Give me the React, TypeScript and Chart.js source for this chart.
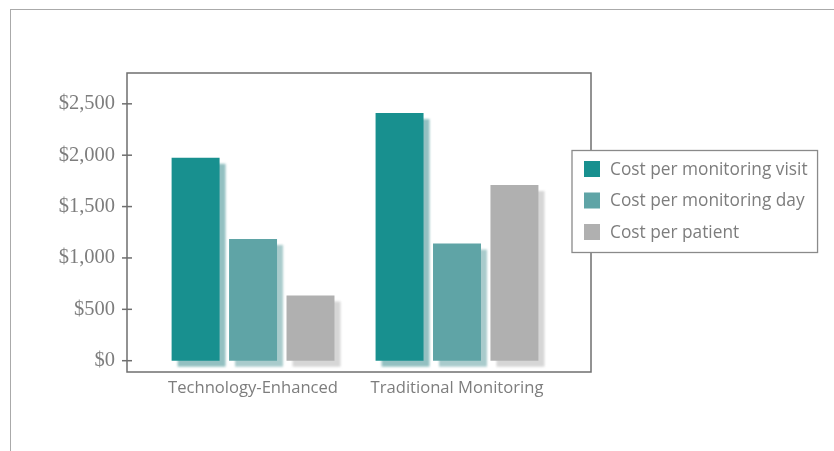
import React, { useEffect, useRef } from "react";
import { Chart, registerables } from "chart.js";

Chart.register(...registerables);

const categories = ["Technology-Enhanced", "Traditional Monitoring"];
const seriesNames = ["Cost per monitoring visit", "Cost per monitoring day", "Cost per patient"];
const visitCost = [1975, 2410];
const dayCost = [1185, 1140];
const patientCost = [635, 1710];
const yTickValues = [0, 500, 1000, 1500, 2000, 2500];

const barColors = ["#18908f", "#5fa4a6", "#b0b0b0"];
const shadowColors = ["#93c0c1", "#a9cbcc", "#d6d6d6"];

const AXIS_COLOR = "#6f6f6f";
const TEXT_COLOR = "#7d7d7d";
const SANS = "'Open Sans', sans-serif";

const shadowPlugin = {
  id: "barShadow",
  beforeDatasetsDraw(chart: any) {
    const ctx = chart.ctx;
    ctx.save();
    ctx.filter = "blur(1px)";
    chart.data.datasets.forEach((ds: any, di: number) => {
      const meta = chart.getDatasetMeta(di);
      ctx.fillStyle = shadowColors[di];
      meta.data.forEach((bar: any) => {
        const { x, y, base, width } = bar.getProps(["x", "y", "base", "width"], true);
        ctx.fillRect(x - width / 2 + 6, y + 6, width, base - y);
      });
    });
    ctx.restore();
  },
};

const framePlugin = {
  id: "frame",
  afterDatasetsDraw(chart: any) {
    const ctx = chart.ctx;
    const { left, right, top, bottom } = chart.chartArea;
    ctx.save();
    ctx.strokeStyle = AXIS_COLOR;
    ctx.lineWidth = 1.5;
    ctx.strokeRect(left, top, right - left, bottom - top);
    const yScale = chart.scales.y;
    yScale.ticks.forEach((t: any) => {
      const py = yScale.getPixelForValue(t.value);
      ctx.beginPath();
      ctx.moveTo(left - 5, py);
      ctx.lineTo(left + 5, py);
      ctx.stroke();
    });
    ctx.restore();
  },
};

const legendPlugin = {
  id: "floatLegend",
  afterDraw(chart: any) {
    const ctx = chart.ctx;
    const { right } = chart.chartArea;
    ctx.save();
    ctx.font = `17.3px ${SANS}`;
    const labels = chart.data.datasets.map((d: any) => d.label);
    const maxW = Math.max(...labels.map((l: string) => ctx.measureText(l).width));
    const boxLeft = right - 19;
    const boxTop = 150.5;
    const rowGap = 31.5;
    const boxW = 38 + maxW + 10;
    const boxH = 102;
    ctx.fillStyle = "#ffffff";
    ctx.fillRect(boxLeft, boxTop, boxW, boxH);
    ctx.strokeStyle = "#8a8a8a";
    ctx.lineWidth = 1.3;
    ctx.strokeRect(boxLeft, boxTop, boxW, boxH);
    ctx.textBaseline = "middle";
    ctx.textAlign = "left";
    chart.data.datasets.forEach((d: any, i: number) => {
      const cy = boxTop + 18.5 + i * rowGap;
      ctx.fillStyle = d.backgroundColor;
      ctx.fillRect(boxLeft + 12, cy - 8, 16, 16);
      ctx.fillStyle = TEXT_COLOR;
      ctx.fillText(d.label, boxLeft + 38, cy + 1);
    });
    ctx.restore();
  },
};

export default function App() {
  const canvasRef = useRef<HTMLCanvasElement | null>(null);

  useEffect(() => {
    if (!canvasRef.current) return;
    const series = [visitCost, dayCost, patientCost];
    const chart = new Chart(canvasRef.current, {
      type: "bar",
      data: {
        datasets: series.map((vals, si) => ({
          label: seriesNames[si],
          data: categories.map((_, ci) => ({ x: ci, y: vals[ci] })),
          backgroundColor: barColors[si],
          borderWidth: 0,
          categoryPercentage: 0.845,
          barPercentage: 0.835,
        })),
      },
      options: {
        animation: false,
        responsive: true,
        maintainAspectRatio: false,
        layout: { padding: { left: 0, top: 73, right: 243, bottom: 0 } },
        plugins: {
          legend: { display: false },
          tooltip: { enabled: false },
        },
        scales: {
          x: {
            type: "linear",
            offset: false,
            min: -0.618,
            max: 1.657,
            afterBuildTicks: (axis: any) => {
              axis.ticks = categories.map((_, i) => ({ value: i }));
            },
            afterFit: (axis: any) => {
              axis.height = 79;
            },
            grid: { display: false, drawTicks: false, offset: false },
            border: { display: false },
            ticks: {
              padding: 6,
              color: TEXT_COLOR,
              font: { family: SANS, size: 16.6 },
              callback: (v: any) => categories[v] ?? "",
              maxRotation: 0,
              autoSkip: false,
            },
          },
          y: {
            type: "linear",
            min: -110,
            max: 2800,
            afterBuildTicks: (axis: any) => {
              axis.ticks = yTickValues.map((v) => ({ value: v }));
            },
            afterFit: (axis: any) => {
              axis.width = 127;
            },
            grid: { display: false, drawTicks: false },
            border: { display: false },
            ticks: {
              padding: 12,
              color: TEXT_COLOR,
              font: { family: "'Liberation Serif', serif", size: 20.5 },
              callback: (v: any) => "$" + Number(v).toLocaleString("en-US"),
            },
          },
        },
      },
      plugins: [shadowPlugin, framePlugin, legendPlugin],
    } as any);
    return () => chart.destroy();
  }, []);

  return (
    <div
      style={{
        position: "fixed",
        left: 0,
        top: 0,
        width: 834,
        height: 451,
        overflow: "hidden",
        background: "#ffffff",
      }}
    >
      <div
        style={{
          position: "absolute",
          left: 10,
          top: 9,
          right: -20,
          bottom: -20,
          borderTop: "1.5px solid #aaaaaa",
          borderLeft: "1.5px solid #aaaaaa",
        }}
      />
      <div style={{ position: "absolute", left: 0, top: 0, width: 834, height: 451 }}>
        <canvas ref={canvasRef} />
      </div>
    </div>
  );
}
